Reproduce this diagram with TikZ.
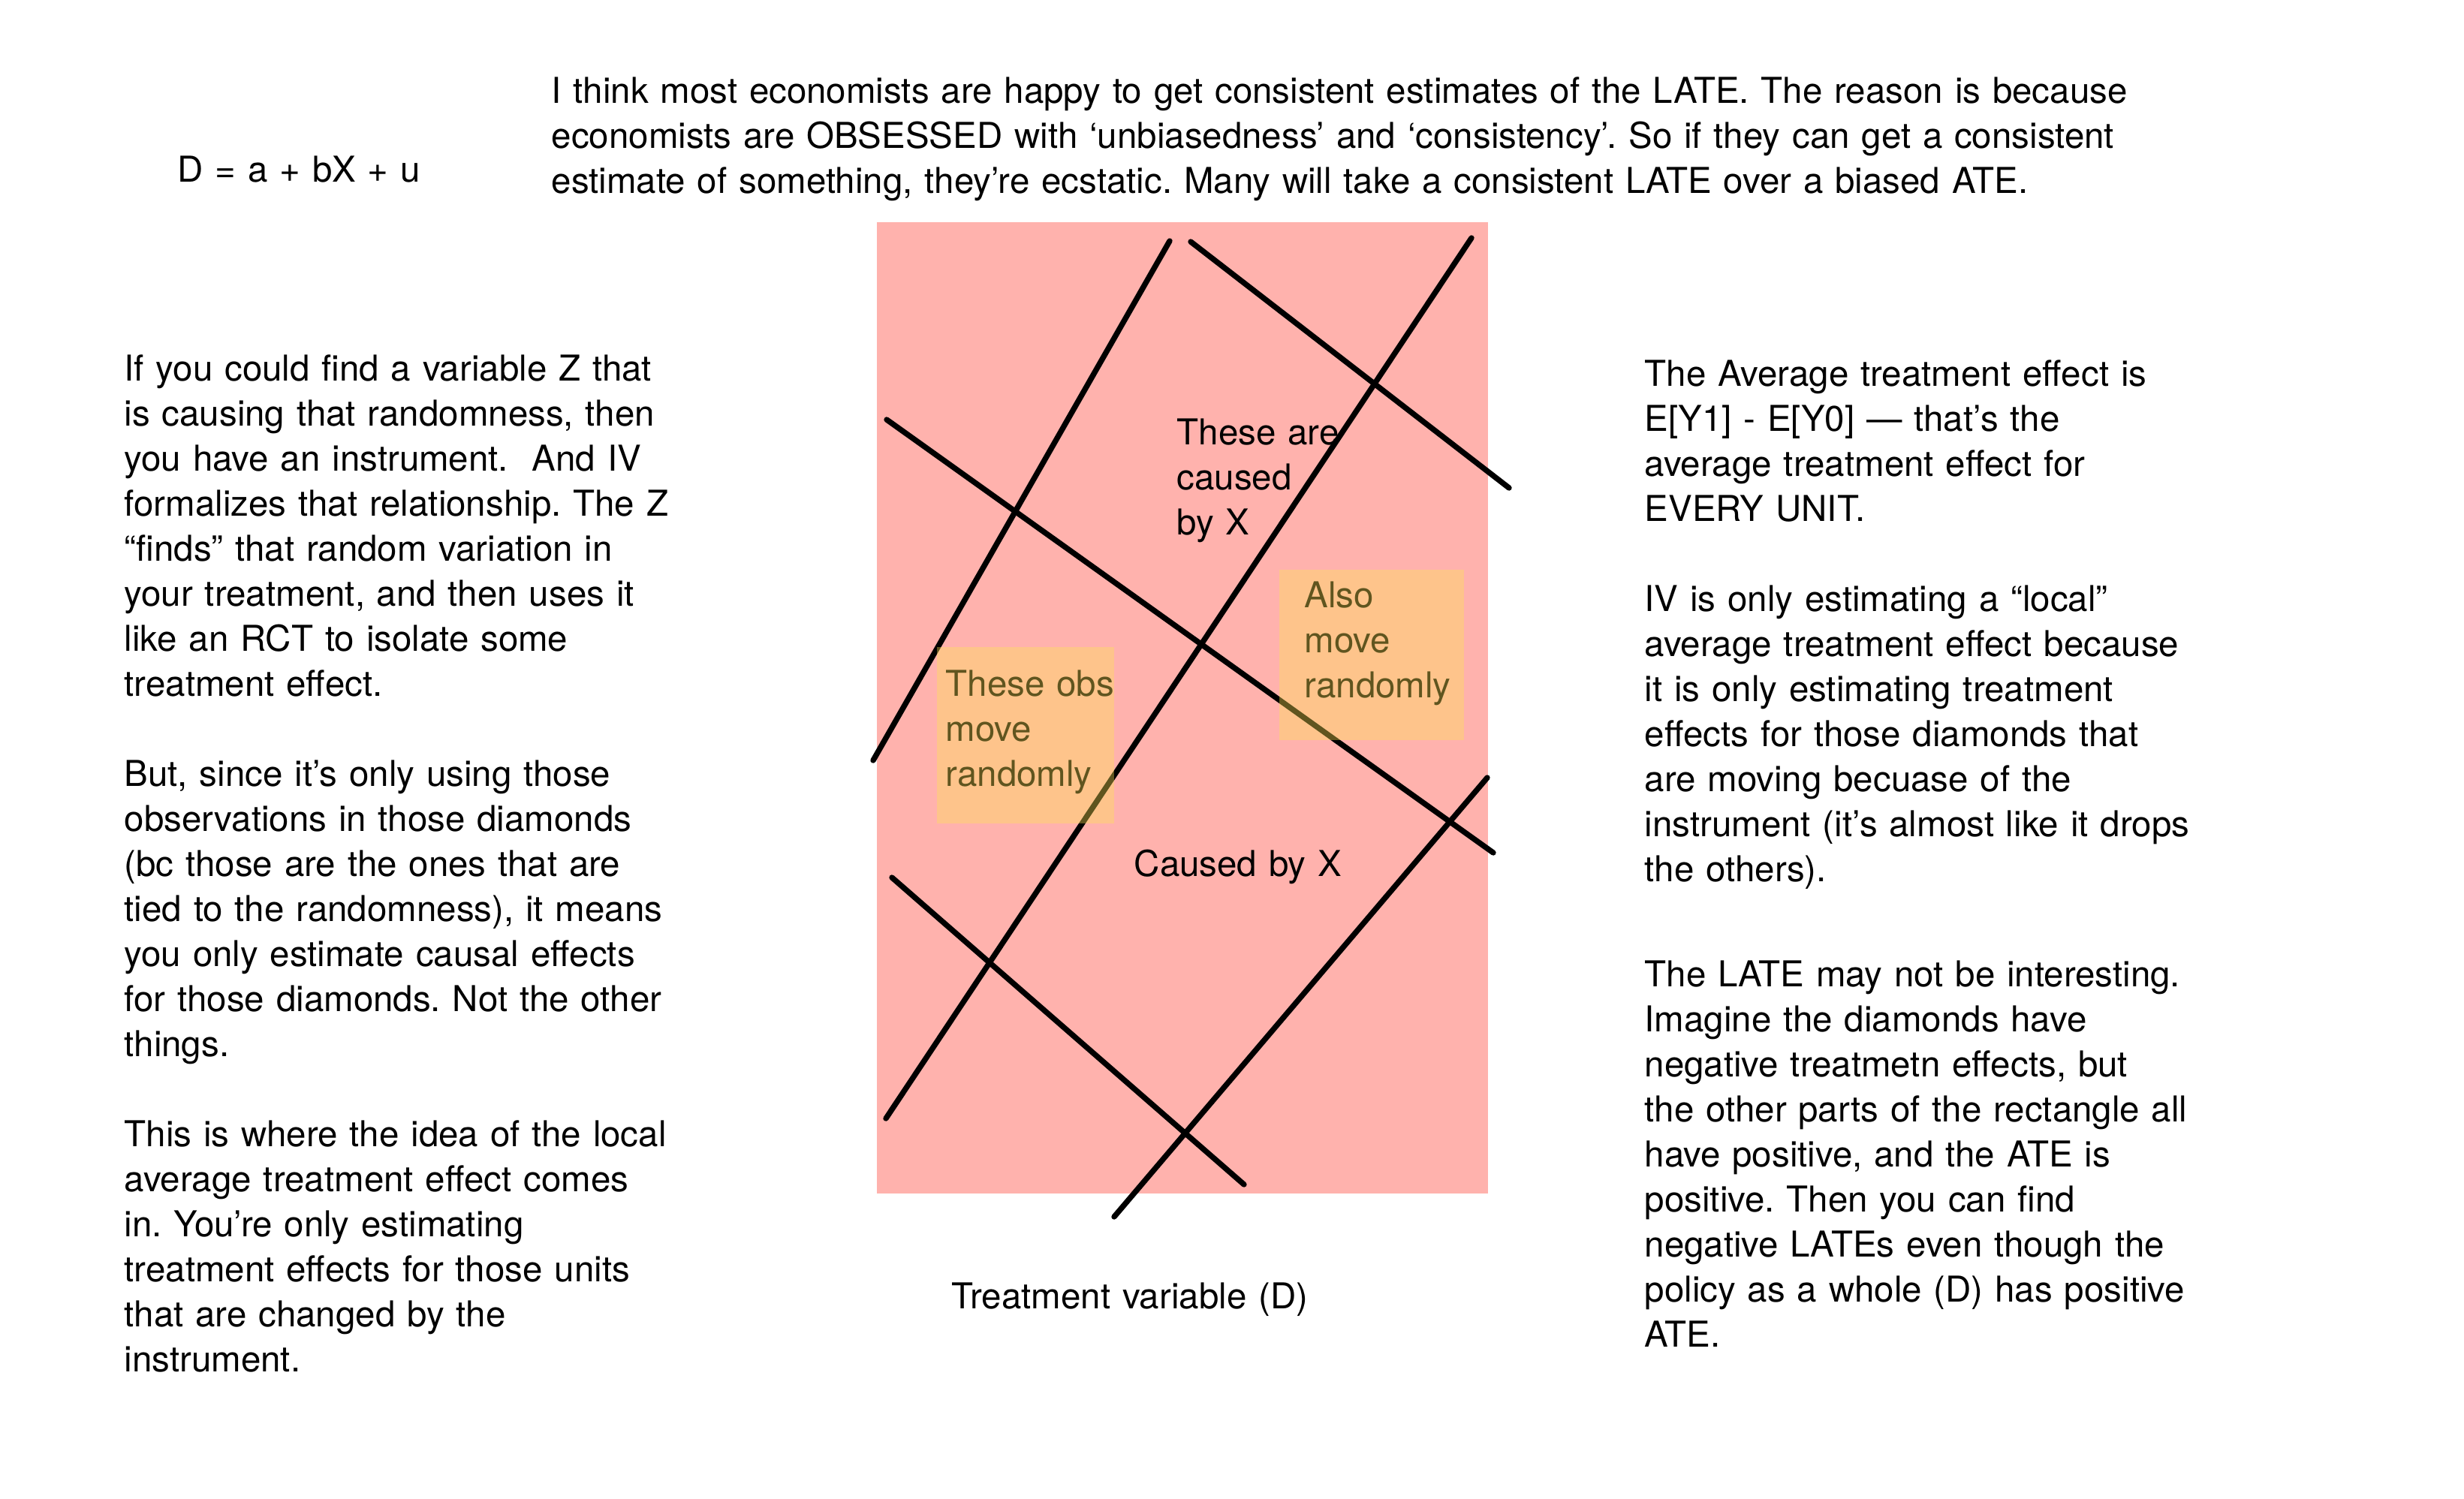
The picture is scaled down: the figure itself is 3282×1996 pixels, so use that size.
\documentclass[tikz,border=0pt]{standalone}
\usepackage{fontspec}
\setmainfont{TeX Gyre Heros}
\usepackage{xcolor}
\usepackage{tikz}
\definecolor{zonepink}{HTML}{FFB2AD}
\definecolor{shadeorange}{HTML}{FDE254}
\definecolor{ink}{HTML}{000000}
\tikzset{
  zone/.style={fill=zonepink, draw=none},
  cut/.style={draw=ink, line width=2.1pt, line cap=round},
  shade/.style={fill=shadeorange, fill opacity=0.38, draw=none},
  body/.style={anchor=base west, inner sep=0pt, align=left, text=ink,
    text width=#1, font=\fontsize{13.5pt}{17.07pt}\selectfont\frenchspacing},
  body/.default=8.2cm
}

\begin{document}
\begin{tikzpicture}[x=0.01cm, y=-0.01cm]
  \useasboundingbox (0,0) rectangle (3282,1996);
  \fill[white] (0,0) rectangle (3282,1996);

  % top line of notes
  \node[body] (eqn) at (236,242) {D = a + bX + u};
  \node[body=23cm] (intro) at (734,137) {I think most economists are happy to get consistent estimates of the LATE. The reason is because\\
    economists are OBSESSED with ‘unbiasedness’ and ‘consistency’. So if they can get a consistent\\
    estimate of something, they’re ecstatic. Many will take a consistent LATE over a biased ATE.};

  % left column
  \node[body] (instr) at (165,507) {If you could find a variable Z that\\
    is causing that randomness, then\\
    you have an instrument.~ And IV\\
    formalizes that relationship. The Z\\
    “finds” that random variation in\\
    your treatment, and then uses it\\
    like an RCT to isolate some\\
    treatment effect.};
  \node[body] (since) at (165,1047) {But, since it’s only using those\\
    observations in those diamonds\\
    (bc those are the ones that are\\
    tied to the randomness), it means\\
    you only estimate causal effects\\
    for those diamonds. Not the other\\
    things.};
  \node[body] (local) at (165,1527) {This is where the idea of the local\\
    average treatment effect comes\\
    in. You’re only estimating\\
    treatment effects for those units\\
    that are changed by the\\
    instrument.};

  % the picture
  \fill[zone] (1168,296) rectangle (1982,1590);
  \node[body=4cm] (byX) at (1567,592) {These are\\caused\\by X};
  \node[body=4cm] (obsA) at (1259,927) {These obs\\move\\randomly};
  \node[body=4cm] (obsB) at (1737,809) {Also\\move\\randomly};
  \node[body=4cm] (caused) at (1510,1167) {Caused by X};

  \draw[cut] (1558,321) -- (1163,1013);
  \draw[cut] (1586,322) -- (2010,650);
  \draw[cut] (1960,317) -- (1180,1490);
  \draw[cut] (1181,559) -- (1989,1136);
  \draw[cut] (1981,1036) -- (1484,1621);
  \draw[cut] (1188,1169) -- (1657,1578);

  \fill[shade] (1248,862) rectangle (1484,1097);
  \fill[shade] (1704,759) rectangle (1950,986);

  \node[body] (treat) at (1267,1743) {Treatment variable (D)};

  % right column
  \node[body] (ate) at (2190,514) {The Average treatment effect is\\
    E[Y1] - E[Y0] — that’s the\\
    average treatment effect for\\
    EVERY UNIT.};
  \node[body] (ivlocal) at (2190,814) {IV is only estimating a “local”\\
    average treatment effect because\\
    it is only estimating treatment\\
    effects for those diamonds that\\
    are moving becuase of the\\
    instrument (it’s almost like it drops\\
    the others).};
  \node[body] (late) at (2190,1314) {The LATE may not be interesting.\\
    Imagine the diamonds have\\
    negative treatmetn effects, but\\
    the other parts of the rectangle all\\
    have positive, and the ATE is\\
    positive. Then you can find\\
    negative LATEs even though the\\
    policy as a whole (D) has positive\\
    ATE.};
\end{tikzpicture}
\end{document}
